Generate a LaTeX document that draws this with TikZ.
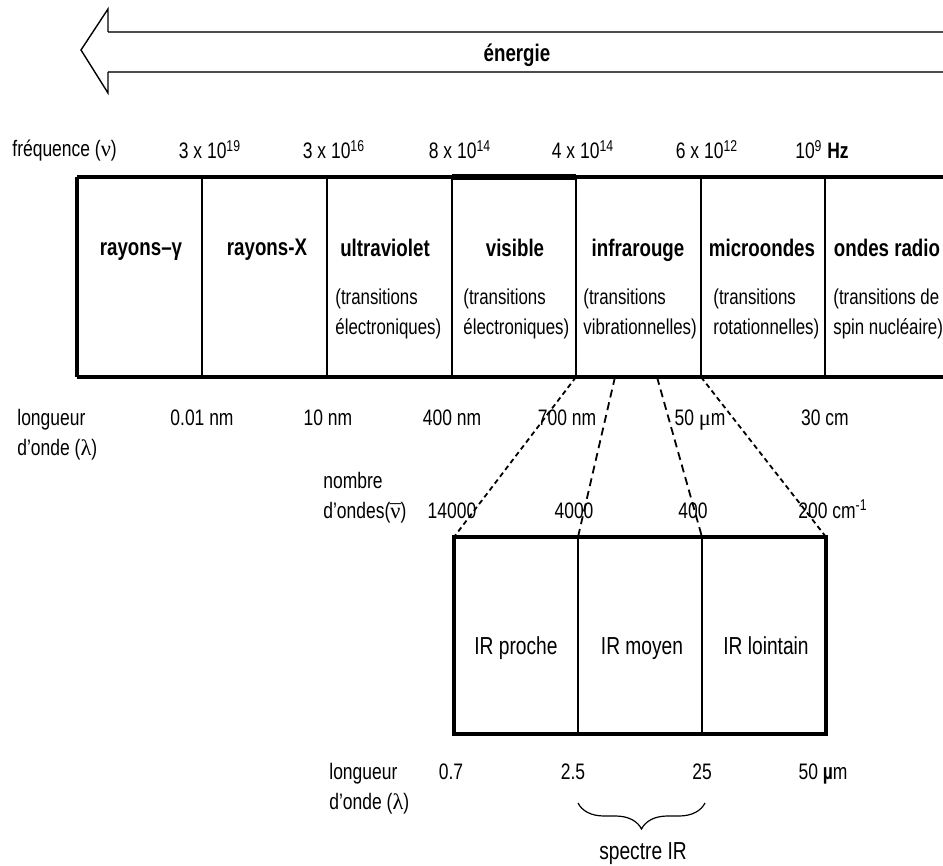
\documentclass[tikz,border=0pt]{standalone}
\usepackage{fontspec}
\setmainfont{Liberation Sans}[FakeStretch=0.78]
\newfontfamily\symb{Liberation Serif}
\usetikzlibrary{decorations.pathreplacing}

\begin{document}
\begin{tikzpicture}[x=0.5pt,y=-0.5pt,
  lbl/.style={font=\fontsize{11.2}{15}\selectfont,inner sep=0pt,anchor=base},
  sub/.style={font=\fontsize{10.8}{15}\selectfont,align=left,anchor=base west,inner sep=0pt},
  bandlbl/.style={font=\fontsize{12}{14}\selectfont\bfseries,inner sep=0pt,anchor=base},
  irlbl/.style={font=\fontsize{12.3}{14}\selectfont,inner sep=0pt,anchor=base},
  edge/.style={line width=1.7pt},
  sep/.style={line width=1.2pt},
  link/.style={line width=0.9pt,dash pattern=on 2.5pt off 1.8pt},
  linklong/.style={line width=0.9pt,dash pattern=on 4pt off 2.5pt}]
\useasboundingbox (0,0) rectangle (943,866);

\coordinate (e1) at (943,32);
\coordinate (e2) at (108,32);
\coordinate (e3) at (108,9);
\coordinate (tip) at (81,50);
\coordinate (e4) at (108,93);
\coordinate (e5) at (108,72);
\coordinate (e6) at (943,72);
\path[draw=black!70,line width=1.1pt] (e1) -- (e2) (e5) -- (e6);
\path[draw,line width=0.7pt] (e2) -- (e3) -- (tip) -- (e4) -- (e5);
\node[font=\fontsize{12}{14}\selectfont\bfseries,anchor=base] (energie) at (517,62) {énergie};

\foreach \xx [count=\i] in {77,202,327,452,576,701,825,943} {
  \coordinate (u\i) at (\xx,177);
  \coordinate (d\i) at (\xx,377);
}
\path[draw,edge] (u1) -- (u8) (d1) -- (d8);
\path[draw,edge] (u1) -- (d1);
\foreach \i in {2,...,7} \path[draw,sep] (u\i) -- (d\i);
\path[draw,line width=3.3pt] (u4) -- (u5);

\foreach \xx [count=\i] in {454,578,702,826} {
  \coordinate (a\i) at (\xx,537);
  \coordinate (b\i) at (\xx,734);
}
\path[draw,line width=1.8pt] (a1) -- (a4) -- (b4) -- (b1) -- cycle;
\path[draw,line width=1.4pt] (a2) -- (b2);
\path[draw,line width=0.8pt] (a3) -- (b3);

\coordinate (m1) at (615,377);
\coordinate (m2) at (657,377);
\path[draw,link] (d5) -- (a1);
\path[draw,linklong] (m1) -- (a2);
\path[draw,linklong] (m2) -- (a3);
\path[draw,link] (d6) -- (a4);

\node[lbl,anchor=base west] (freq) at (12,157) {fréquence ({\symb ν})};
\foreach \xx/\mm/\ee [count=\i] in {210/3/19,334/3/16,460/8/14,583/4/14,707/6/12}
  \node[lbl] (f\i) at (\xx,159) {\mm{} x 10\textsuperscript{\ee}};
\node[lbl] (f6) at (822,159) {10\textsuperscript{9} \textbf{Hz}};

\node[bandlbl] (gam) at (141,256) {rayons–γ};
\node[bandlbl] (rx) at (267,256) {rayons-X};
\node[bandlbl] (uv) at (385,257) {ultraviolet};
\node[bandlbl] (vis) at (515,257) {visible};
\node[bandlbl] (ir) at (638,257) {infrarouge};
\node[bandlbl] (mo) at (762,257) {microondes};
\node[bandlbl] (radio) at (887,257) {ondes radio};

\node[sub] (uvsub) at (335,335) {(transitions\\électroniques)};
\node[sub] (vissub) at (463,335) {(transitions\\électroniques)};
\node[sub] (irsub) at (583,335) {(transitions\\vibrationnelles)};
\node[sub] (mosub) at (713,335) {(transitions\\rotationnelles)};
\node[sub] (radiosub) at (833,335) {(transitions de\\spin nucléaire)};

\node[lbl,align=left,anchor=base west] (lon) at (17,455) {longueur\\d'onde ({\symb λ})};
\foreach \xx/\ww [count=\i] in {202/0.01 nm,328/10 nm,452/400 nm,567/700 nm,700/50 {\symb μ}m,825/30 cm}
  \node[lbl] (w\i) at (\xx,425) {\ww};

\node[lbl,align=left,anchor=base west] (nomb) at (323,518) {nombre\\d'ondes({\symb\ooalign{ν\cr\hidewidth\raisebox{-0.25ex}{¯}\hidewidth\cr}})};
\node[lbl] (n1) at (452,518) {14000};
\node[lbl] (n2) at (574,518) {4000};
\node[lbl] (n3) at (693,518) {400};
\node[lbl,anchor=base west] (n4) at (798,518) {200 cm\textsuperscript{-1}};

\node[irlbl] (proche) at (516,654) {IR proche};
\node[irlbl] (moyen) at (642,654) {IR moyen};
\node[irlbl] (lointain) at (766,654) {IR lointain};

\node[lbl,align=left,anchor=base west] (lon2) at (329,809) {longueur\\d'onde ({\symb λ})};
\node[lbl] (l1) at (451,779) {0.7};
\node[lbl] (l2) at (573,779) {2.5};
\node[lbl] (l3) at (702,779) {25};
\node[lbl] (l4) at (823,779) {50 \textbf{µ}m};

\coordinate (br1) at (578,803);
\coordinate (br2) at (705,803);
\path[draw,line width=0.6pt,decorate,decoration={brace,mirror,amplitude=13pt}] (br1) -- (br2);
\node[irlbl] (spectre) at (643,859) {spectre IR};
\end{tikzpicture}
\end{document}
